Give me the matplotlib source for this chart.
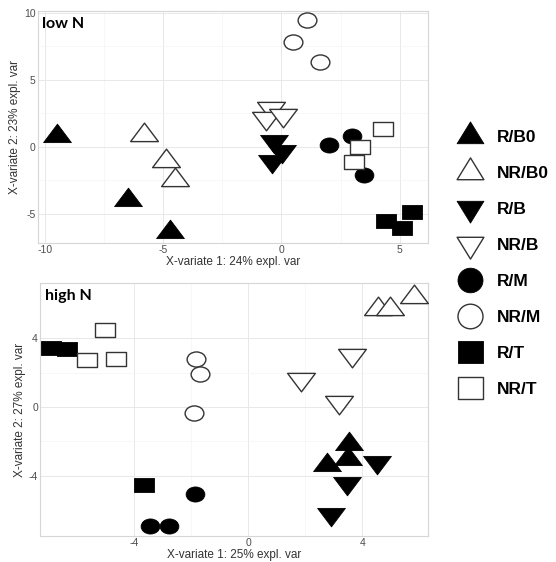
import numpy as np
import matplotlib
matplotlib.use("Agg")
import matplotlib.pyplot as plt
from matplotlib.path import Path
from matplotlib.transforms import Affine2D
from matplotlib.lines import Line2D

plt.rcParams['font.family'] = ['Liberation Sans', 'DejaVu Sans']
plt.rcParams['axes.unicode_minus'] = False

groups = ["R/B0", "NR/B0", "R/B", "NR/B", "R/M", "NR/M", "R/T", "NR/T"]

# low N scores (X-variate 1, X-variate 2)
low_x = {
    "R/B0": [-9.5, -6.5, -4.7],
    "NR/B0": [-5.8, -4.9, -4.5],
    "R/B": [-0.3, 0.03, -0.4],
    "NR/B": [-0.45, -0.65, 0.05],
    "R/M": [2.0, 3.0, 3.5],
    "NR/M": [0.48, 1.08, 1.65],
    "R/T": [4.4, 5.1, 5.5],
    "NR/T": [4.3, 3.3, 3.05],
}
low_y = {
    "R/B0": [0.8, -4.0, -6.4],
    "NR/B0": [0.9, -1.1, -2.5],
    "R/B": [0.4, -0.35, -1.1],
    "NR/B": [2.9, 2.15, 2.4],
    "R/M": [0.15, 0.8, -2.1],
    "NR/M": [7.8, 9.5, 6.3],
    "R/T": [-5.55, -6.05, -4.85],
    "NR/T": [1.3, -0.05, -1.15],
}

# high N scores
high_x = {
    "R/B0": [3.52, 2.76, 3.5],
    "NR/B0": [4.54, 4.97, 5.79],
    "R/B": [4.52, 3.46, 2.88],
    "NR/B": [1.85, 3.65, 3.18],
    "R/M": [-1.87, -3.43, -2.78],
    "NR/M": [-1.85, -1.7, -1.9],
    "R/T": [-6.9, -6.37, -3.66],
    "NR/T": [-5.03, -5.67, -4.65],
}
high_y = {
    "R/B0": [-2.13, -3.39, -3.0],
    "NR/B0": [5.7, 5.7, 6.4],
    "R/B": [-3.2, -4.45, -6.2],
    "NR/B": [1.65, 3.0, 0.3],
    "R/M": [-5.05, -6.9, -6.9],
    "NR/M": [2.8, 1.9, -0.35],
    "R/T": [3.4, 3.35, -4.56],
    "NR/T": [4.47, 2.7, 2.8],
}


def make_markers(squash):
    h1, h2 = 0.44 * squash / 0.67, 0.89 * squash / 0.67
    up = Path([(-1, -h1), (1, -h1), (0, h2), (-1, -h1)],
              [Path.MOVETO, Path.LINETO, Path.LINETO, Path.CLOSEPOLY])
    down = Affine2D().scale(1, -1).transform_path(up)
    circ = Affine2D().scale(1, squash * 1.2).transform_path(Path.unit_circle())
    s = squash * 1.1
    sq = Path([(-1, -s), (1, -s), (1, s), (-1, s), (-1, -s)],
              [Path.MOVETO, Path.LINETO, Path.LINETO, Path.LINETO, Path.CLOSEPOLY])
    return {"B0": up, "B": down, "M": circ, "T": sq}


plot_mk = make_markers(0.67)
leg_mk = make_markers(0.82)
sizes = {"B0": 20, "B": 20, "M": 13.5, "T": 14}
leg_sizes = {"B0": 21, "B": 21, "M": 18, "T": 18}


def style(g):
    filled = not g.startswith("NR")
    kind = g.split("/")[1]
    return kind, filled


def draw_panel(ax, xs, ys, xticks, yticks, xlim, ylim, xlabel, ylabel, title):
    for g in groups:
        kind, filled = style(g)
        ax.plot(xs[g], ys[g], linestyle="none", marker=plot_mk[kind],
                markersize=sizes[kind],
                markerfacecolor="black" if filled else "white",
                markeredgecolor="black" if filled else "#333333",
                markeredgewidth=0.6 if filled else 1.0, zorder=3)
    ax.set_xlim(*xlim)
    ax.set_ylim(*ylim)
    ax.set_xticks(xticks)
    ax.set_yticks(yticks)
    ax.set_xticks([(a + b) / 2 for a, b in zip(xticks[:-1], xticks[1:])], minor=True)
    ax.set_yticks([(a + b) / 2 for a, b in zip(yticks[:-1], yticks[1:])], minor=True)
    ax.grid(True, which="major", color="#e8e8e8", linewidth=0.7, zorder=0)
    ax.grid(True, which="minor", color="#f4f4f4", linewidth=0.5, zorder=0)
    ax.set_axisbelow(True)
    ax.tick_params(which="both", length=0, pad=1.5, labelsize=7.5, labelcolor="#4d4d4d")
    for s in ax.spines.values():
        s.set_color("#d6d6d6")
        s.set_linewidth(0.8)
    ax.set_xlabel(xlabel, fontsize=8.5, color="#333333", labelpad=1)
    ax.set_ylabel(ylabel, fontsize=8.5, color="#333333", labelpad=2)
    ax.text(0.012, 0.975, title, transform=ax.transAxes, ha="left", va="top",
            fontsize=11.5, fontweight="bold", family=["Lato", "DejaVu Sans"])


fig = plt.figure(figsize=(5.56, 5.62), dpi=100)
ax1 = fig.add_axes([0.068, 0.5676, 0.702, 0.4128])
ax2 = fig.add_axes([0.072, 0.0463, 0.698, 0.4501])

draw_panel(ax1, low_x, low_y, [-10, -5, 0, 5], [-5, 0, 5, 10], (-10.3, 6.2), (-7.2, 10.15),
           "X-variate 1: 24% expl. var", "X-variate 2: 23% expl. var", "low N")
draw_panel(ax2, high_x, high_y, [-4, 0, 4], [-4, 0, 4], (-7.3, 6.3), (-7.5, 7.2),
           "X-variate 1: 25% expl. var", "X-variate 2: 27% expl. var", "high N")

handles = []
for g in groups:
    kind, filled = style(g)
    handles.append(Line2D([], [], linestyle="none", marker=leg_mk[kind],
                          markersize=leg_sizes[kind],
                          markerfacecolor="black" if filled else "white",
                          markeredgecolor="black" if filled else "#333333",
                          markeredgewidth=0.6 if filled else 1.0))
fig.legend(handles, groups, loc="center left", bbox_to_anchor=(0.807, 0.531),
           frameon=False, prop={"size": 12.5, "weight": "bold"},
           labelspacing=1.2, handletextpad=0.8, handlelength=1.5, borderpad=0)

fig.savefig("out.png", dpi=100)
